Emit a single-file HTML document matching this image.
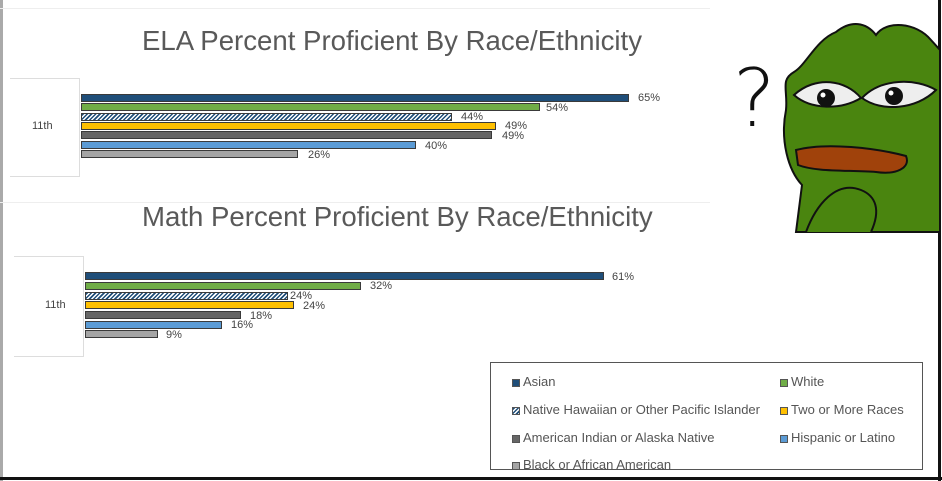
<!DOCTYPE html>
<html><head><meta charset="utf-8"><style>
body{margin:0;width:942px;height:481px;background:#fff;overflow:hidden;position:relative;font-family:"Liberation Sans",sans-serif}
.t{position:absolute;color:#595959;font-size:27.6px;white-space:nowrap}
.l{position:absolute;font-size:11px;color:#444;white-space:nowrap}
.b{position:absolute;height:8px;box-sizing:border-box;border:1px solid #3a3a3a}
.lg{position:absolute;font-size:13px;color:#555;white-space:nowrap}
.lg i{display:inline-block;width:8px;height:8px;margin-right:3px;vertical-align:-1px;border:1px solid #555;box-sizing:border-box}
</style></head><body>
<div style="position:absolute;left:0;top:0;width:3px;height:481px;background:#aaa"></div>
<div style="position:absolute;left:0;top:477px;width:942px;height:3px;background:#111"></div>
<div style="position:absolute;left:938px;top:0;width:3px;height:481px;background:#111"></div>
<div style="position:absolute;left:0;top:8px;width:710px;height:1px;background:#eee"></div>
<div style="position:absolute;left:0;top:202px;width:710px;height:1px;background:#eee"></div>

<div class="t" style="left:142px;top:25px">ELA Percent Proficient By Race/Ethnicity</div>
<div style="position:absolute;left:10px;top:78px;width:69px;height:97px;border-top:1px solid #ddd;border-right:1px solid #ddd;border-bottom:1px solid #ddd"></div>
<div class="l" style="left:32px;top:120px;font-size:11px">11th</div>
<div class="b" style="left:81px;top:94px;width:548px;background:#1f4e79"></div>
<div class="b" style="left:81px;top:103px;width:459px;background:#70ad47"></div>
<div class="b" style="left:81px;top:113px;width:371px;background:repeating-linear-gradient(135deg,#1f4e79 0 1.5px,#fff 1.5px 3px)"></div>
<div class="b" style="left:81px;top:122px;width:415px;background:#ffc000"></div>
<div class="b" style="left:81px;top:131px;width:411px;background:#666"></div>
<div class="b" style="left:81px;top:141px;width:335px;background:#5b9bd5"></div>
<div class="b" style="left:81px;top:150px;width:217px;background:#a5a5a5"></div>
<div class="l" style="left:638px;top:92px">65%</div>
<div class="l" style="left:546px;top:102px">54%</div>
<div class="l" style="left:461px;top:111px">44%</div>
<div class="l" style="left:505px;top:120px">49%</div>
<div class="l" style="left:502px;top:130px">49%</div>
<div class="l" style="left:425px;top:140px">40%</div>
<div class="l" style="left:308px;top:149px">26%</div>

<div class="t" style="left:142px;top:201px">Math Percent Proficient By Race/Ethnicity</div>
<div style="position:absolute;left:14px;top:256px;width:69px;height:99px;border-top:1px solid #ddd;border-right:1px solid #ddd;border-bottom:1px solid #ddd"></div>
<div class="l" style="left:45px;top:299px;font-size:11px">11th</div>
<div class="b" style="left:85px;top:272px;width:519px;background:#1f4e79"></div>
<div class="b" style="left:85px;top:282px;width:276px;background:#70ad47"></div>
<div class="b" style="left:85px;top:292px;width:203px;background:repeating-linear-gradient(135deg,#1f4e79 0 1.5px,#fff 1.5px 3px)"></div>
<div class="b" style="left:85px;top:301px;width:209px;background:#ffc000"></div>
<div class="b" style="left:85px;top:311px;width:156px;background:#666"></div>
<div class="b" style="left:85px;top:321px;width:137px;background:#5b9bd5"></div>
<div class="b" style="left:85px;top:330px;width:73px;background:#a5a5a5"></div>
<div class="l" style="left:612px;top:271px">61%</div>
<div class="l" style="left:370px;top:280px">32%</div>
<div class="l" style="left:290px;top:290px">24%</div>
<div class="l" style="left:303px;top:300px">24%</div>
<div class="l" style="left:250px;top:310px">18%</div>
<div class="l" style="left:231px;top:319px">16%</div>
<div class="l" style="left:166px;top:329px">9%</div>

<div style="position:absolute;left:490px;top:362px;width:433px;height:108px;border:1px solid #555;box-sizing:border-box"></div>
<div class="lg" style="left:512px;top:374px"><i style="background:#1f4e79"></i>Asian</div>
<div class="lg" style="left:780px;top:374px"><i style="background:#70ad47"></i>White</div>
<div class="lg" style="left:512px;top:402px"><i style="background:repeating-linear-gradient(135deg,#1f4e79 0 1.5px,#fff 1.5px 3px)"></i>Native Hawaiian or Other Pacific Islander</div>
<div class="lg" style="left:780px;top:402px"><i style="background:#ffc000"></i>Two or More Races</div>
<div class="lg" style="left:512px;top:430px"><i style="background:#666"></i>American Indian or Alaska Native</div>
<div class="lg" style="left:780px;top:430px"><i style="background:#5b9bd5"></i>Hispanic or Latino</div>
<div class="lg" style="left:512px;top:457px"><i style="background:#a5a5a5"></i>Black or African American</div>

<div style="position:absolute;left:733px;top:52px;font-size:80px;color:#111;font-family:'DejaVu Sans',sans-serif;font-weight:300">?</div>
<svg style="position:absolute;left:766px;top:10px" width="174" height="226" viewBox="0 0 174 226">
<path d="M30 222 L36 175 C22 160 14 130 20 100 C22 80 14 70 28 62 C40 55 50 30 70 22 C85 10 100 12 110 25 C120 10 150 12 165 30 L174 40 L174 222 Z" fill="#4a850f" stroke="#111" stroke-width="2"/>
<path d="M28 85 C50 65 80 70 95 88 C75 100 45 100 28 85Z" fill="#eee" stroke="#111" stroke-width="2"/>
<path d="M96 88 C115 68 150 68 170 80 C150 100 115 102 96 88Z" fill="#eee" stroke="#111" stroke-width="2"/>
<circle cx="60" cy="88" r="9" fill="#111"/><circle cx="128" cy="86" r="9" fill="#111"/>
<circle cx="57" cy="85" r="2.5" fill="#fff"/><circle cx="125" cy="83" r="2.5" fill="#fff"/>
<path d="M30 140 C60 132 110 138 140 146 C145 158 130 165 110 162 C80 160 50 162 32 155 Z" fill="#a0420b" stroke="#111" stroke-width="2"/>
<path d="M40 222 C50 195 70 170 95 180 C110 186 115 200 105 222" fill="#4a850f" stroke="#111" stroke-width="2"/>
</svg>
</body></html>
